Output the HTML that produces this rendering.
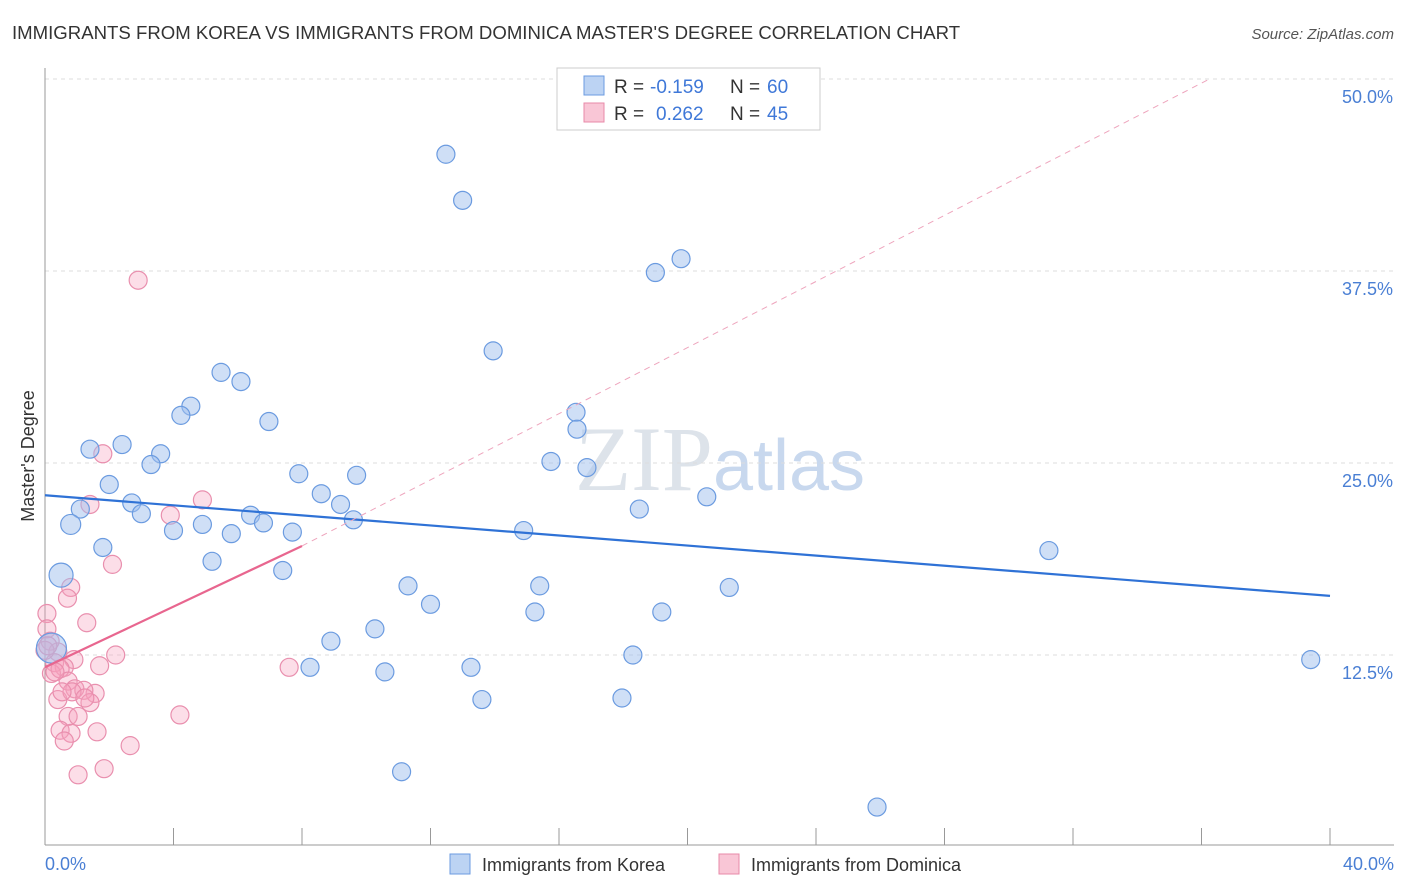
<!DOCTYPE html>
<html><head><meta charset="utf-8"><style>
body{margin:0;background:#fff;font-family:"Liberation Sans",sans-serif;}
svg{display:block}
</style></head><body>
<svg width="1406" height="892">
<text x="12" y="39" font-size="18.6" fill="#333">IMMIGRANTS FROM KOREA VS IMMIGRANTS FROM DOMINICA MASTER'S DEGREE CORRELATION CHART</text>
<text x="1394" y="39" font-size="15" fill="#555" font-style="italic" text-anchor="end">Source: ZipAtlas.com</text>
<text x="720" y="490" font-size="92" fill="#dde3ea" text-anchor="middle" font-family="Liberation Serif,serif">ZIP<tspan fill="#c8d8ee" font-family="Liberation Sans,sans-serif" font-size="72">atlas</tspan></text>
<g id="grid"></g>
<line x1="45" y1="68" x2="45" y2="845" stroke="#999"/>
<line x1="45" y1="845" x2="1394" y2="845" stroke="#999"/>
<g id="xt"></g>
<text x="45" y="870" font-size="18" fill="#4a7fd4">0.0%</text>
<text x="1394" y="870" font-size="18" fill="#4a7fd4" text-anchor="end">40.0%</text>
<text transform="translate(34,456) rotate(-90)" font-size="18" fill="#333" text-anchor="middle">Master's Degree</text>
<g id="pts"></g>
<g id="lines"></g>
<g>
<rect x="557" y="68" width="263" height="62" fill="#fff" stroke="#ccc"/>
<rect x="584" y="76" width="20" height="19" fill="#bcd3f3" stroke="#6b9be0"/>
<rect x="584" y="103" width="20" height="19" fill="#f9c6d6" stroke="#e88aa8"/>
<text x="614" y="93" font-size="19" fill="#333">R =</text>
<text x="650" y="93" font-size="19" fill="#3f78d8">-0.159</text>
<text x="730" y="93" font-size="19" fill="#333">N =</text>
<text x="767" y="93" font-size="19" fill="#3f78d8">60</text>
<text x="614" y="120" font-size="19" fill="#333">R =</text>
<text x="656" y="120" font-size="19" fill="#3f78d8">0.262</text>
<text x="730" y="120" font-size="19" fill="#333">N =</text>
<text x="767" y="120" font-size="19" fill="#3f78d8">45</text>
</g>
<g>
<rect x="450" y="854" width="20" height="20" fill="#bcd3f3" stroke="#6b9be0"/>
<text x="482" y="871" font-size="18" fill="#333">Immigrants from Korea</text>
<rect x="719" y="854" width="20" height="20" fill="#f9c6d6" stroke="#e88aa8"/>
<text x="751" y="871" font-size="18" fill="#333">Immigrants from Dominica</text>
</g>
</svg>
<script>
const yTicks=[12.5,25,37.5,50];
const yTickLabels=["12.5%","25.0%","37.5%","50.0%"];
const xTicks=[0,4,8,12,16,20,24,28,32,36,40];
const koreaX=[12.48,13.0,19.0,19.8,13.95,5.48,6.1,4.54,4.23,6.97,16.53,16.56,1.4,2.4,3.6,3.3,15.75,16.87,7.9,9.7,2.0,8.6,2.7,9.2,1.1,3.0,18.5,20.6,0.8,4.9,4.0,5.8,6.4,6.8,7.7,9.6,14.9,1.8,31.25,5.2,0.5,7.4,11.3,15.4,21.3,12.0,15.25,19.2,10.27,8.9,0.2,18.3,8.25,13.26,10.58,39.4,13.6,17.96,11.1,25.9];
const koreaY=[45.1,42.1,37.4,38.3,32.3,30.9,30.3,28.7,28.1,27.7,28.3,27.2,25.9,26.2,25.6,24.9,25.1,24.7,24.3,24.2,23.6,23.0,22.4,22.3,22.0,21.7,22.0,22.8,21.0,21.0,20.6,20.4,21.6,21.1,20.5,21.3,20.6,19.5,19.3,18.6,17.7,18.0,17.0,17.0,16.9,15.8,15.3,15.3,14.2,13.4,12.95,12.5,11.7,11.7,11.4,12.2,9.6,9.7,4.9,2.6];
const koreaR=[9,9,9,9,9,9,9,9,9,9,9,9,9,9,9,9,9,9,9,9,9,9,9,9,9,9,9,9,10,9,9,9,9,9,9,9,9,9,9,9,12,9,9,9,9,9,9,9,9,9,15,9,9,9,9,9,9,9,9,9];
const domX=[2.9,1.8,1.4,4.9,3.9,2.1,0.8,0.7,0.06,1.3,0.06,0.16,2.2,0.9,0.4,0.3,0.6,1.7,7.6,0.2,0.47,0.72,0.93,1.56,1.21,0.4,0.84,1.4,4.2,0.72,1.03,0.47,0.81,1.62,0.6,2.65,1.84,1.03,0.31,0.0,0.53,1.24,0.09];
const domY=[36.9,25.6,22.3,22.6,21.6,18.4,16.9,16.2,15.2,14.6,14.2,13.4,12.5,12.2,12.7,12.0,11.7,11.8,11.7,11.3,11.6,10.8,10.3,10.0,10.2,9.6,10.1,9.4,8.6,8.5,8.5,7.6,7.4,7.5,6.9,6.6,5.1,4.7,11.4,12.8,10.1,9.7,13.1];
const koreaTrend=[[0,22.9],[40,16.35]];
const domTrend=[[0,11.7],[8,19.6]];
const domTrendExt=[[8,19.6],[36.25,50.0]];
const NS="http://www.w3.org/2000/svg";
const X=v=>45+v/40*1285, Y=v=>655-(v-12.5)*15.36;
function mk(t,a,p){const e=document.createElementNS(NS,t);for(const k in a)e.setAttribute(k,a[k]);p.appendChild(e);return e;}
const g=document.getElementById('grid');
yTicks.forEach((t,i)=>{
 const l=mk('line',{x1:45,x2:1394,y1:Y(t),y2:Y(t),stroke:'#ddd','stroke-dasharray':'4,4'},g);
 
 
 const tx=mk('text',{x:1393,y:Y(t)+24,'font-size':18,fill:'#4a7fd4','text-anchor':'end'},g);
 tx.textContent=yTickLabels[i];
 
 
});
const xt=document.getElementById('xt');
xTicks.forEach(t=>{
 const l=mk('line',{x1:X(t),x2:X(t),y1:828,y2:845,stroke:'#999'},xt);
 
 
});
const pts=document.getElementById('pts');
domX.forEach((x,i)=>{
 const c=mk('circle',{cx:X(x),cy:Y(domY[i]),r:9,fill:'rgba(245,160,190,0.35)',stroke:'#e98fae','stroke-width':1.2},pts);
 
 
});
koreaX.forEach((x,i)=>{
 const c=mk('circle',{cx:X(x),cy:Y(koreaY[i]),r:koreaR[i],fill:'rgba(160,192,238,0.5)',stroke:'#6b9be0','stroke-width':1.2},pts);
 
 
});
const lg=document.getElementById('lines');
const kl=mk('line',{x1:X(koreaTrend[0][0]),y1:Y(koreaTrend[0][1]),x2:X(koreaTrend[1][0]),y2:Y(koreaTrend[1][1]),stroke:'#2f72d6','stroke-width':2.2},lg);


const dl=mk('line',{x1:X(domTrend[0][0]),y1:Y(domTrend[0][1]),x2:X(domTrend[1][0]),y2:Y(domTrend[1][1]),stroke:'#e8668f','stroke-width':2.2},lg);


const de=mk('line',{x1:X(domTrendExt[0][0]),y1:Y(domTrendExt[0][1]),x2:X(domTrendExt[1][0]),y2:Y(domTrendExt[1][1]),stroke:'#eea5bd','stroke-width':1,'stroke-dasharray':'6,5'},lg);


</script>
</body></html>
